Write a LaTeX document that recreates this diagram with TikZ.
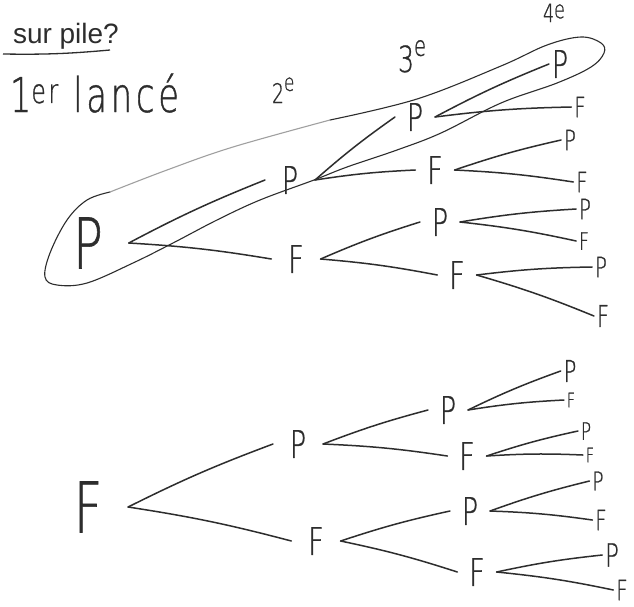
\documentclass[tikz,border=0pt]{standalone}
\usepackage{fontspec}
\setmainfont{Liberation Sans}
\newfontfamily\hand{DejaVu Sans ExtraLight}[FakeStretch=0.7, FakeBold=0.8]
\definecolor{pencil}{RGB}{45,45,45}
\newcommand{\hochE}[1]{\raisebox{0.45em}{\fontsize{#1}{#1}\selectfont e}}
\usetikzlibrary{arrows}

\begin{document}
\begin{tikzpicture}[x=1pt, y=-1pt, >=latex,
    every node/.style={text=pencil, inner ysep=0pt, outer sep=0pt},
    lvlone/.style={font=\hand\fontsize{70}{70}\selectfont, inner xsep=26pt},
    lvltwo/.style={font=\hand\fontsize{38}{38}\selectfont, inner xsep=17pt},
    lvlthree/.style={font=\hand\fontsize{38}{38}\selectfont, inner xsep=12pt},
    leaf/.style={font=\hand\fontsize{#1}{#1}\selectfont, inner xsep=3pt},
    leaf/.default=28,
    head/.style={font=\hand\fontsize{#1}{#1}\selectfont, anchor=base west, inner sep=0pt},
    branch/.style={draw=pencil, line width=1.5pt, line cap=round},
    lasso/.style={draw=pencil, line width=1.1pt, line cap=round}]
    % Bildbereich
    \fill[white] (0,0) rectangle (634,606);
    \useasboundingbox (0,0) rectangle (634,606);
    % Frage und Spaltenkoepfe
    \node[font=\fontsize{28}{28}\selectfont, anchor=base west, inner sep=0pt] (q) at (13,43) {sur pile?};
    \draw[pencil, line width=1.3pt] (3,54) to[bend right=3] (110,50);
    \node[head=48] (h1) at (10,112) {\addfontfeature{LetterSpace=8}1\textsuperscript{er} lancé};
    \node[head=27] (h2) at (272,103) {2\hochE{24}};
    \node[head=36] (h3) at (398,72) {3\hochE{28}};
    \node[head=25] (h4) at (543,22) {4\raisebox{0.15em}{e}};
    % Baum mit P
    \node[lvlone] (r) at (88,243) {P};
    \node[lvltwo] (rP) at (290,180) {P};
    \node[lvltwo] (rF) at (296,259) {F};
    \node[lvlthree] (rPP) at (415,117) {P};
    \node[lvlthree] (rPF) at (435,170) {F};
    \node[lvlthree] (rFP) at (440,222) {P};
    \node[lvlthree] (rFF) at (457,275) {F};
    \node[leaf=38] (rPPP) at (560,64) {P};
    \node[leaf] (rPPF) at (580,107) {F};
    \node[leaf] (rPFP) at (570,140) {P};
    \node[leaf] (rPFF) at (582,182) {F};
    \node[leaf] (rFPP) at (585,209) {P};
    \node[leaf=24] (rFPF) at (584,241) {F};
    \node[leaf] (rFFP) at (601,267) {P};
    \node[leaf=30] (rFFF) at (603,316) {F};
    % Baum mit F
    \node[lvlone] (s) at (88,507) {F};
    \node[lvltwo] (sP) at (298,444) {P};
    \node[lvltwo] (sF) at (316,541) {F};
    \node[lvlthree] (sPP) at (448,410) {P};
    \node[lvlthree] (sPF) at (467,456) {F};
    \node[lvlthree] (sFP) at (470,511) {P};
    \node[lvlthree] (sFF) at (477,572) {F};
    \node[leaf=30] (sPPP) at (570,371) {P};
    \node[leaf=20] (sPPF) at (571,400) {F};
    \node[leaf=24] (sPFP) at (586,431) {P};
    \node[leaf=20] (sPFF) at (590,455) {F};
    \node[leaf=26] (sFPP) at (598,481) {P};
    \node[leaf] (sFPF) at (601,520) {F};
    \node[leaf=32] (sFFP) at (612,555) {P};
    \node[leaf=28] (sFFF) at (622,590) {F};
    % Aeste
    \foreach \a/\b in {r/rP, r/rF, rP/rPP, rP/rPF, rF/rFP, rF/rFF,
        rPP/rPPP, rPP/rPPF, rPF/rPFP, rPF/rPFF, rFP/rFPP, rFP/rFPF, rFF/rFFP, rFF/rFFF,
        s/sP, s/sF, sP/sPP, sP/sPF, sF/sFP, sF/sFF,
        sPP/sPPP, sPP/sPPF, sPF/sPFP, sPF/sPFF, sFP/sFPP, sFP/sFPF, sFF/sFFP, sFF/sFFF}
      \draw[branch] (\a.east) to[bend left=3] (\b.west);
    % Schlinge um P-P-P-P
    \draw[lasso] plot[smooth, tension=0.6] coordinates {(330,120) (417,99) (501,66) (547,45)
      (581,37) (601,43) (604,53) (591,67) (557,83) (501,103) (441,133) (397,150) (347,167)
      (314,180) (260,200) (217,220) (173,243) (133,263) (87,283) (57,285) (45,277) (50,253)
      (67,220) (87,200) (110,192)};
    \draw[lasso, draw=pencil!45] plot[smooth, tension=0.6] coordinates {(110,192) (167,170) (233,147) (330,120)};
\end{tikzpicture}
\end{document}
